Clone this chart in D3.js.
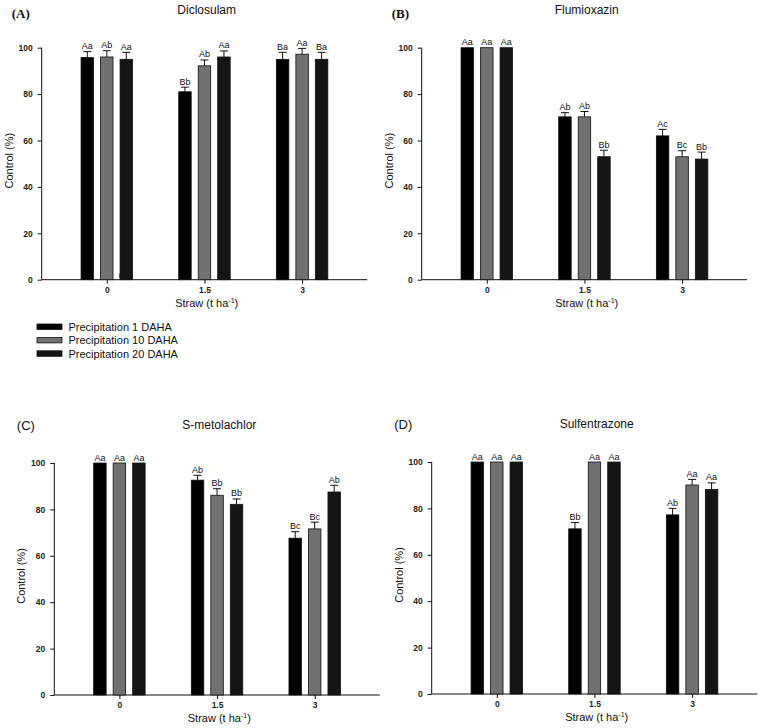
<!DOCTYPE html>
<html lang="en">
<head>
    <meta charset="utf-8" />
    <title>Herbicide control vs straw</title>
    <script src="https://d3js.org/d3.v7.js"></script>
    <style>
        body, html {
            margin: 0;
            background: #ffffff;
            font-family: "Liberation Sans", Arial, sans-serif;
        }
        .tick text { font-size: 8.5px; font-weight: bold; fill: #222; }
        .title { font-size: 12px; text-anchor: middle; fill: #111; }
        .axisTitle { font-size: 11px; text-anchor: middle; fill: #111; }
        .letter { font-size: 9px; text-anchor: middle; fill: #111; }
        .legendText { font-size: 11px; fill: #111; }
    </style>
</head>
<body>
    <div id="canvas"></div>
</body>
</html>
<script>
    // categories and series
    var straw = [0, 1.5, 3];
    var seriesNames = ["Precipitation 1 DAHA", "Precipitation 10 DAHA", "Precipitation 20 DAHA"];
    var seriesColors = ["#000000", "#717171", "#151515"];
    var yTicks = [0, 20, 40, 60, 80, 100];

    // (A) Diclosulam
    var dicloValues = [[95.8, 81, 95], [96, 92.2, 97.2], [95, 96, 95]];
    var dicloErr = [[2.5, 2, 3], [2.7, 2.5, 2.5], [3, 2.6, 3]];
    var dicloLetters = [["Aa", "Bb", "Ba"], ["Ab", "Ab", "Aa"], ["Aa", "Aa", "Ba"]];

    // (B) Flumioxazin
    var flumiValues = [[100, 70.2, 62], [100, 70.2, 53], [100, 53, 52]];
    var flumiErr = [[0, 1.8, 2.8], [0, 2.3, 2.6], [0, 2.8, 3]];
    var flumiLetters = [["Aa", "Ab", "Ac"], ["Aa", "Ab", "Bc"], ["Aa", "Bb", "Bb"]];

    // (C) S-metolachlor
    var smetoValues = [[100, 92.6, 67.6], [100, 86.1, 71.6], [100, 82.2, 87.5]];
    var smetoErr = [[0, 2.1, 2.8], [0, 2.8, 2.9], [0, 2.3, 2.9]];
    var smetoLetters = [["Aa", "Ab", "Bc"], ["Aa", "Bb", "Bc"], ["Aa", "Bb", "Ab"]];

    // (D) Sulfentrazone
    var sulfeValues = [[100, 71.2, 77.2], [100, 100, 90.1], [100, 100, 88.2]];
    var sulfeErr = [[0, 2.7, 2.8], [0, 0, 2.4], [0, 0, 2.8]];
    var sulfeLetters = [["Aa", "Bb", "Ab"], ["Aa", "Aa", "Aa"], ["Aa", "Aa", "Aa"]];

    var svg = d3.select("#canvas")
        .append("svg")
        .attr("width", 759)
        .attr("height", 728);

    // panel layout: left/top of plot area, label style
    var panels = [
        {tag: "(A)", name: "Diclosulam", left: 41.7, top: 47.7, values: dicloValues, err: dicloErr, letters: dicloLetters, serif: true, stray: true},
        {tag: "(B)", name: "Flumioxazin", left: 421.7, top: 47.7, values: flumiValues, err: flumiErr, letters: flumiLetters, serif: true},
        {tag: "(C)", name: "S-metolachlor", left: 54.3, top: 463, values: smetoValues, err: smetoErr, letters: smetoLetters, serif: false},
        {tag: "(D)", name: "Sulfentrazone", left: 431.7, top: 462, values: sulfeValues, err: sulfeErr, letters: sulfeLetters, serif: false}
    ];

    var width = 325.5,
        height = 232;

    panels.forEach(function(p) {
        var g = svg.append("g")
            .attr("transform", "translate(" + p.left + "," + p.top + ")");

        var x = d3.scaleLinear().domain([-1, 4]).range([0, width]);
        var y = d3.scaleLinear().domain([0, 100]).range([height, 0]);
        // offsets of the three bars inside a group
        var sub = d3.scaleBand().domain([0, 1, 2]).range([-29.25, 29.25]).paddingInner(0.36).paddingOuter(0.18);

        // axes
        g.append("g")
            .attr("transform", "translate(0," + height + ")")
            .call(d3.axisBottom(x).tickValues(straw).tickSize(4).tickPadding(3).tickFormat(d3.format("")))
            .call(function(a) { a.select(".domain").attr("d", "M0,0H" + width); });

        g.append("g")
            .call(d3.axisLeft(y).tickValues(yTicks).tickSize(4).tickPadding(5))
            .call(function(a) { a.select(".domain").attr("d", "M0,0V" + height); });

        g.selectAll(".domain, .tick line").attr("stroke", "#111");

        // stray zero label from the original figure
        if (p.stray) {
            g.append("text")
                .text("0")
                .attr("x", x(0) + 12)
                .attr("y", height - 1)
                .style("font-size", "9px")
                .style("fill", "#111");
        }

        // bars, error bars and letters
        p.values.forEach(function(vals, s) {
            var data = straw.map(function(c, i) {
                return {c: c, v: vals[i], e: p.err[s][i], l: p.letters[s][i]};
            });

            g.selectAll(".bar" + s)
                .data(data)
                .enter()
                .append("rect")
                .attr("x", function(d) { return x(d.c) + sub(s); })
                .attr("y", function(d) { return y(d.v); })
                .attr("width", sub.bandwidth())
                .attr("height", function(d) { return height - y(d.v); })
                .attr("fill", seriesColors[s])
                .attr("stroke", "#111")
                .attr("stroke-width", 0.8);

            var eb = data.filter(function(d) { return d.e > 0; });
            g.selectAll(".err" + s)
                .data(eb)
                .enter()
                .append("path")
                .attr("d", function(d) {
                    var cx = x(d.c) + sub(s) + sub.bandwidth() / 2;
                    return "M" + cx + "," + y(d.v) + "V" + y(d.v + d.e) +
                        "M" + (cx - 4) + "," + y(d.v + d.e) + "H" + (cx + 4);
                })
                .attr("stroke", "#111")
                .attr("stroke-width", 1)
                .attr("fill", "none");

            g.selectAll(".letter" + s)
                .data(data)
                .enter()
                .append("text")
                .attr("class", "letter")
                .text(function(d) { return d.l; })
                .attr("x", function(d) { return x(d.c) + sub(s) + sub.bandwidth() / 2; })
                .attr("y", function(d) { return y(d.v + d.e) - 2.5; });
        });

        // titles
        g.append("text")
            .attr("class", "title")
            .text(p.name)
            .attr("x", 165)
            .attr("y", -34);

        g.append("text")
            .text(p.tag)
            .attr("x", p.serif ? -30 : -37.5)
            .attr("y", p.serif ? -30 : -33)
            .style("font-family", p.serif ? "'Liberation Serif', 'Times New Roman', serif" : "'Liberation Sans', Arial, sans-serif")
            .style("font-weight", p.serif ? "bold" : "normal")
            .style("font-size", "13px")
            .style("fill", "#111");

        g.append("text")
            .attr("class", "axisTitle")
            .attr("transform", "rotate(-90)")
            .attr("x", -height / 2 + 3)
            .attr("y", -29)
            .text("Control  (%)");

        var xt = g.append("text")
            .attr("class", "axisTitle")
            .attr("x", 165)
            .attr("y", height + 27);
        xt.append("tspan").text("Straw (t ha");
        xt.append("tspan").text("-1").attr("dy", -4).style("font-size", "7px");
        xt.append("tspan").text(")").attr("dy", 4);
    });

    // legend
    var legend = svg.append("g").attr("transform", "translate(37,324)");
    seriesNames.forEach(function(n, i) {
        legend.append("rect")
            .attr("x", 0)
            .attr("y", i * 13.4)
            .attr("width", 25)
            .attr("height", 5.5)
            .attr("fill", seriesColors[i])
            .attr("stroke", "#111")
            .attr("stroke-width", 0.8);
        legend.append("text")
            .attr("class", "legendText")
            .attr("x", 31.5)
            .attr("y", i * 13.4 + 7)
            .text(n);
    });
</script>
